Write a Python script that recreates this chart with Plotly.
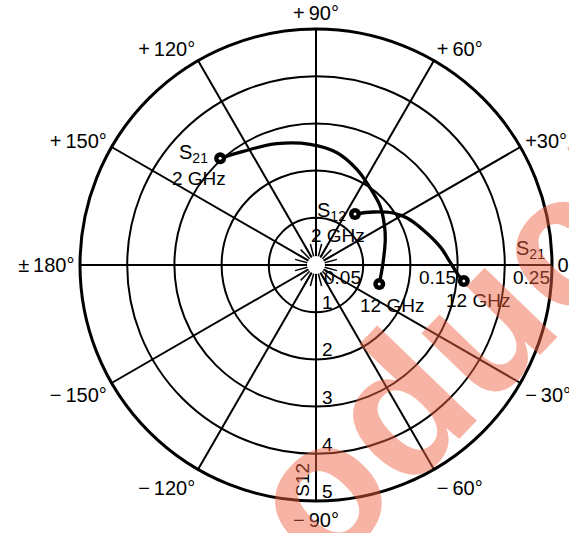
import math
import plotly.graph_objects as go

# ---- data -------------------------------------------------------------
# S21 locus, 2 GHz -> 12 GHz: linear magnitude and phase (deg)
s21_mag = [0.152, 0.143, 0.135, 0.128, 0.121, 0.110, 0.100, 0.092, 0.083, 0.078, 0.071, 0.070]
s21_ang = [131.9, 122.6, 107.9, 92.8, 79.4, 66.7, 55.3, 42.2, 28.8, 19.9, 1.7, -16.8]

# S12 locus, 2 GHz -> 12 GHz: magnitude on the 1..5 scale and phase (deg)
s12_mag = [1.36, 1.65, 1.97, 2.17, 2.39, 2.66, 2.84, 3.02, 3.15]
s12_ang = [52.6, 42.9, 34.0, 27.3, 18.1, 8.3, 1.3, -4.0, -6.2]

# polar grid
ang_ticks = [0, 30, 60, 90, 120, 150, 180, 210, 240, 270, 300, 330]
ang_labels = ["0°", "+30°", "+\u200960°", "+\u200990°", "+\u2009120°", "+\u2009150°",
              "±\u2009180°", "\u2212\u2009150°", "\u2212\u2009120°", "\u2212\u200990°",
              "\u2212\u200960°", "\u2212\u200930°"]
s21_rings = [0.05, 0.10, 0.15, 0.20, 0.25]
s21_scale_vals = [0.05, 0.15, 0.25]
s21_scale_text = ["0.05", "0.15", "0.25"]
s12_scale_vals = [1, 2, 3, 4, 5]
s12_scale_text = ["1", "2", "3", "4", "5"]
S21_MAX = 0.25
S12_MAX = 5

# ---- geometry ---------------------------------------------------------
W, H = 569, 533
CX, CY, R = 316, 265, 236
FONT = "Liberation Sans"
dom_x = [(CX - R) / W, (CX + R) / W]
dom_y = [(H - CY - R) / H, (H - CY + R) / H]


def to_paper(r, theta, rmax):
    frac = r / rmax
    t = math.radians(theta)
    x = CX + R * frac * math.cos(t)
    y = CY - R * frac * math.sin(t)
    return x / W, 1 - y / H


fig = go.Figure()

# blank the hub and add the short intermediate spokes
fig.add_trace(go.Scatterpolar(r=[0], theta=[0], mode="markers",
                              marker=dict(size=18, color="white"),
                              subplot="polar", hoverinfo="skip", showlegend=False))
hub_r, hub_t = [], []
for a in range(15, 360, 30):
    hub_r += [0.0095, 0.023, None]
    hub_t += [a, a, None]
for a in ang_ticks:
    hub_r += [0.0095, 0.023, None]
    hub_t += [a, a, None]
fig.add_trace(go.Scatterpolar(r=hub_r, theta=hub_t, mode="lines",
                              line=dict(color="black", width=1.5),
                              subplot="polar", hoverinfo="skip", showlegend=False))


def end_dots(r, theta, subplot):
    # solid dot with a small light centre
    rr = [r[0], r[-1]]
    tt = [theta[0], theta[-1]]
    fig.add_trace(go.Scatterpolar(r=rr, theta=tt, mode="markers",
                                  marker=dict(size=12, color="black", line=dict(width=0)),
                                  subplot=subplot, showlegend=False))
    fig.add_trace(go.Scatterpolar(r=rr, theta=tt, mode="markers",
                                  marker=dict(size=3, color="white", line=dict(width=0)),
                                  subplot=subplot, showlegend=False, hoverinfo="skip"))


# S21 curve
fig.add_trace(go.Scatterpolar(r=s21_mag, theta=s21_ang, mode="lines",
                              line=dict(color="black", width=3.3, shape="spline"),
                              subplot="polar", showlegend=False))
end_dots(s21_mag, s21_ang, "polar")

# S12 curve on its own radial scale
fig.add_trace(go.Scatterpolar(r=s12_mag, theta=s12_ang, mode="lines",
                              line=dict(color="black", width=3.3, shape="spline"),
                              subplot="polar2", showlegend=False))
end_dots(s12_mag, s12_ang, "polar2")

ann = []


def label(text, r, theta, rmax, xanchor="center", yanchor="middle", dx=0, dy=0, size=19, angle=0):
    x, y = to_paper(r, theta, rmax)
    ann.append(dict(text=text, x=x, y=y, xref="paper", yref="paper", showarrow=False,
                    xanchor=xanchor, yanchor=yanchor, xshift=dx, yshift=dy, textangle=angle,
                    font=dict(family=FONT, size=size, color="black")))


# curve end labels
label("S<sub>21</sub>", s21_mag[0], s21_ang[0], S21_MAX, "right", "middle", -10, 5, size=20)
label("2 GHz", s21_mag[0], s21_ang[0], S21_MAX, "center", "middle", -21, -20)
label("12 GHz", s21_mag[-1], s21_ang[-1], S21_MAX, "center", "middle", 13, -21)
label("S<sub>12</sub>", s12_mag[0], s12_ang[0], S12_MAX, "right", "middle", -7, 3, size=20)
label("2 GHz", s12_mag[0], s12_ang[0], S12_MAX, "center", "middle", -17, -21)
label("12 GHz", s12_mag[-1], s12_ang[-1], S12_MAX, "center", "middle", 14, -19)

# S21 magnitude scale along 0 deg
for v, t in zip(s21_scale_vals, s21_scale_text):
    label(t, v, 0, S21_MAX, "right", "top", 0, 0)
label("S<sub>21</sub>", S21_MAX, 0, S21_MAX, "right", "bottom", -5, 1, size=20)

# S12 magnitude scale along -90 deg
for v, t in zip(s12_scale_vals, s12_scale_text):
    label(t, v, -90, S12_MAX, "left", "bottom", 4, -3)
label("S12", 4.55, -90, S12_MAX, "center", "middle", -13, 0, angle=-90)

# bracket closing the S21 scale
bx, by = to_paper(S21_MAX, 0, S21_MAX)
fig.add_shape(type="line", xref="paper", yref="paper", x0=bx, x1=bx, y0=by, y1=by + 14 / H,
              line=dict(color="black", width=1.5))

# source watermark
ann.append(dict(text="<b>oduct</b>", x=456 / W, y=1 - 347 / H, xref="paper", yref="paper",
                showarrow=False, textangle=-46, xanchor="center", yanchor="middle",
                font=dict(family=FONT, size=190, color="rgba(238,96,64,0.48)")))

axis_common = dict(showgrid=True, gridcolor="black", gridwidth=1.6)

fig.update_layout(
    width=W, height=H,
    margin=dict(l=0, r=0, t=0, b=0),
    paper_bgcolor="white",
    font=dict(family=FONT, color="black"),
    annotations=ann,
    polar=dict(
        domain=dict(x=dom_x, y=dom_y),
        bgcolor="white",
        radialaxis=dict(range=[0, S21_MAX], tickvals=s21_rings, showticklabels=False,
                        ticks="", showline=False, **axis_common),
        angularaxis=dict(tickvals=ang_ticks, ticktext=ang_labels, rotation=0,
                         direction="counterclockwise", showline=True, linecolor="black",
                         linewidth=3, ticks="",
                         tickfont=dict(family=FONT, size=20, color="black"), **axis_common),
    ),
    polar2=dict(
        domain=dict(x=dom_x, y=dom_y),
        bgcolor="rgba(0,0,0,0)",
        radialaxis=dict(range=[0, S12_MAX], visible=False),
        angularaxis=dict(visible=False, rotation=0, direction="counterclockwise"),
    ),
)

fig.write_html("out.html")
